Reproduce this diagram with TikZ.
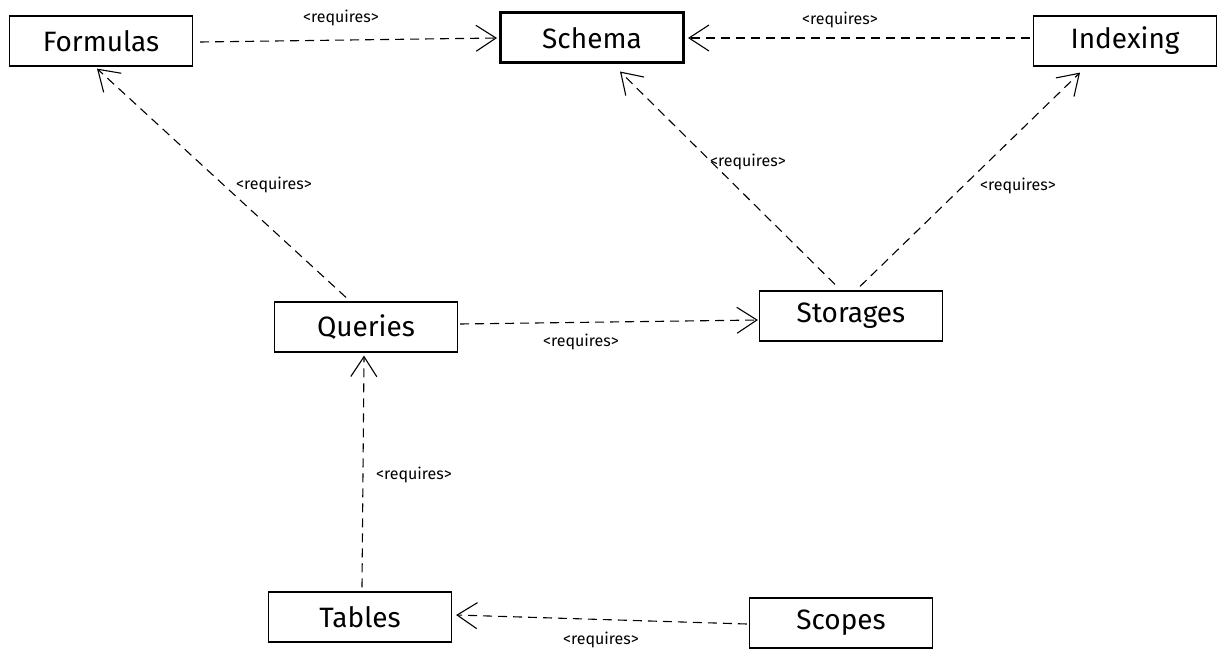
\documentclass[tikz,border=0pt]{standalone}
\usepackage{fontspec}
\setmainfont{Fira Sans}
\usetikzlibrary{arrows.meta,calc}
\tikzset{
  box/.style={draw, line width=1.2pt, minimum width=183pt, minimum height=50pt, inner sep=0pt,
    font=\fontsize{28}{32}\selectfont},
  boldbox/.style={box, line width=3pt},
  dep/.style={draw, line width=1.1pt, dash pattern=on 9pt off 6pt,
    -{Straight Barb[length=20pt,width=26pt,line width=1.1pt]}},
  lbl/.style={font=\fontsize{16}{18}\selectfont, inner sep=0pt}
}
\begin{document}
\begin{tikzpicture}[x=1pt,y=-1pt]
\useasboundingbox (0,0) rectangle (1226,661);
\node[box] (formulas) at (101,41) {Formulas};
\node[boldbox] (schema) at (592,38) {Schema};
\node[box] (indexing) at (1125,41) {Indexing};
\node[box] (queries) at (366,327) {Queries};
\node[box] (storages) at (851,316) {Storages};
\node[box] (tables) at (360,617) {Tables};
\node[box] (scopes) at (841,623) {Scopes};

\draw[dep] ($(formulas.east)+(7,1)$) -- ($(schema.west)+(-2,0)$);
\draw[dep] ($(indexing.west)+(-3,-3)$) -- ($(schema.east)+(3,0)$);
\draw[dep] ($(queries.north)+(-20,-4)$) -- ($(formulas.south)+(-4,2)$);
\draw[dep] ($(storages.north)+(-16,-6)$) -- ($(schema.south)+(28,7)$);
\draw[dep] ($(storages.north)+(9,-4)$) -- ($(indexing.south)+(-45,6)$);
\draw[dep] ($(queries.east)+(2,-3)$) -- ($(storages.west)+(-1,4)$);
\draw[dep] ($(tables.north)+(2,-4)$) -- ($(queries.south)+(-2,3)$);
\draw[dep] ($(scopes.west)+(-2,1)$) -- ($(tables.east)+(4,-2)$);

\node[lbl] (l1) at (341,18) {<requires>};
\node[lbl] (l2) at (840,20) {<requires>};
\node[lbl] (l3) at (274,185) {<requires>};
\node[lbl] (l4) at (748,162) {<requires>};
\node[lbl] (l5) at (1018,186) {<requires>};
\node[lbl] (l6) at (581,342) {<requires>};
\node[lbl] (l7) at (414,475) {<requires>};
\node[lbl] (l8) at (601,640) {<requires>};
\end{tikzpicture}
\end{document}
